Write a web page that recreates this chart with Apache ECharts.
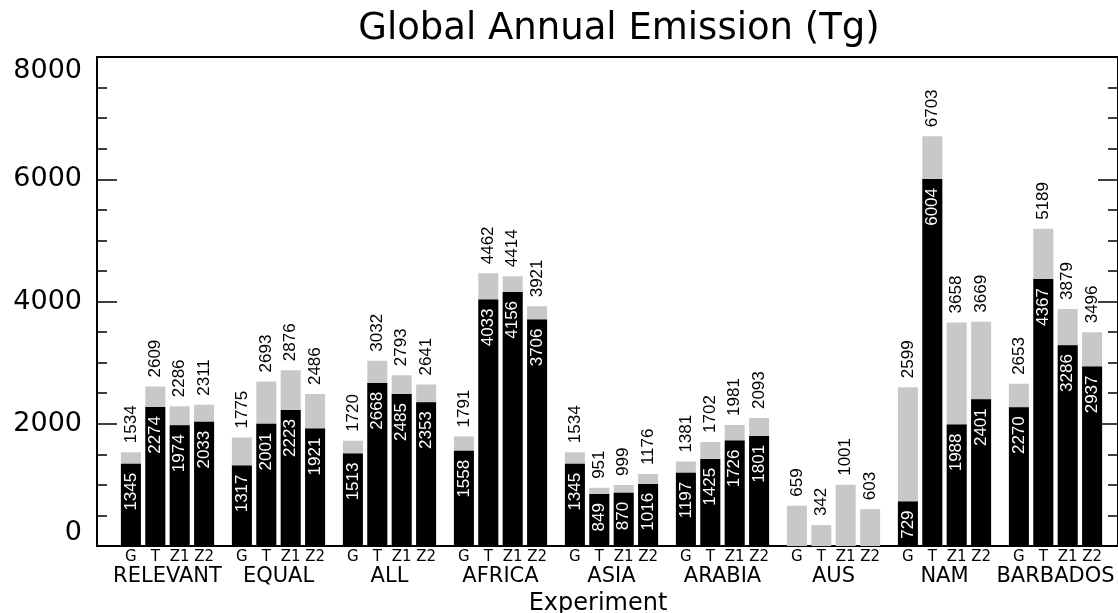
<!DOCTYPE html>
<html>
<head>
<meta charset="utf-8">
<script src="https://cdn.jsdelivr.net/npm/echarts@6/dist/echarts.min.js"></script>
<style>
  html, body { margin: 0; padding: 0; background: #ffffff; }
  #chart { width: 1118px; height: 613px; }
</style>
</head>
<body>
<div id="chart"></div>
<script>
// Experiments along the x axis and the four runs drawn for each one
const experiments = ['RELEVANT', 'EQUAL', 'ALL', 'AFRICA', 'ASIA', 'ARABIA', 'AUS', 'NAM', 'BARBADOS'];
const runs = ['G', 'T', 'Z1', 'Z2'];

// Total global annual emission (Tg), grey bars
const totalG  = [1534, 1775, 1720, 1791, 1534, 1381,  659, 2599, 2653];
const totalT  = [2609, 2693, 3032, 4462,  951, 1702,  342, 6703, 5189];
const totalZ1 = [2286, 2876, 2793, 4414,  999, 1981, 1001, 3658, 3879];
const totalZ2 = [2311, 2486, 2641, 3921, 1176, 2093,  603, 3669, 3496];

// Part of the emission shown in black (no value for AUS)
const partG  = [1345, 1317, 1513, 1558, 1345, 1197, null,  729, 2270];
const partT  = [2274, 2001, 2668, 4033,  849, 1425, null, 6004, 4367];
const partZ1 = [1974, 2223, 2485, 4156,  870, 1726, null, 1988, 3286];
const partZ2 = [2033, 1921, 2353, 3706, 1016, 1801, null, 2401, 2937];

const yMin = 0;
const yMax = 8000;
const yStep = 2000;

// thin sans for all text, falling back to the regular weight
const FONT = "'DejaVu Sans ExtraLight', 'DejaVu Sans'";
const VALUE_FONT = 'Liberation Sans';
const GREY = '#c8c8c8';

const totals = [totalG, totalT, totalZ1, totalZ2];
const parts = [partG, partT, partZ1, partZ2];

const BAR_W = 20;
const BAR_GAP = '22%';

const series = [];
runs.forEach((run, i) => {
  series.push({
    name: run + ' total',
    type: 'bar',
    xAxisIndex: 2,
    yAxisIndex: 2,
    data: totals[i],
    barWidth: BAR_W,
    barGap: BAR_GAP,
    z: 2,
    itemStyle: { color: GREY },
    label: {
      show: true,
      position: 'top',
      distance: 9,
      rotate: 90,
      align: 'left',
      verticalAlign: 'middle',
      color: '#000',
      fontFamily: VALUE_FONT,
      fontSize: 17
    }
  });
});
runs.forEach((run, i) => {
  series.push({
    name: run,
    type: 'bar',
    xAxisIndex: 3,
    yAxisIndex: 2,
    data: parts[i],
    barWidth: BAR_W,
    barGap: BAR_GAP,
    z: 3,
    itemStyle: { color: '#000' },
    label: {
      show: true,
      position: 'insideTop',
      distance: 9,
      rotate: 90,
      align: 'right',
      verticalAlign: 'middle',
      color: '#fff',
      fontFamily: VALUE_FONT,
      fontSize: 17
    }
  });
});

const frameLine = () => ({ show: true, onZero: false, lineStyle: { color: '#000', width: 2 } });
const frameTick = () => ({ show: true, inside: true, length: 20, lineStyle: { color: '#000', width: 1.5 } });
const frameMinor = () => ({ show: true, splitNumber: 4, length: 10, lineStyle: { color: '#000', width: 1.5 } });

const chart = echarts.init(document.getElementById('chart'), null, { renderer: 'canvas' });
chart.setOption({
  animation: false,
  backgroundColor: '#ffffff',
  textStyle: { fontFamily: FONT },
  title: [
    {
      text: 'Global Annual Emission (Tg)',
      left: 614,
      top: 6,
      textAlign: 'center',
      textStyle: { fontFamily: FONT, fontWeight: 'normal', fontSize: 37, color: '#000' }
    },
    {
      text: 'Experiment',
      left: 593,
      top: 587,
      textAlign: 'center',
      textStyle: { fontFamily: FONT, fontWeight: 'normal', fontSize: 24, color: '#000' }
    }
  ],
  grid: [
    // plot frame with the value axes
    { left: 97, right: -9, top: 57, bottom: 67, containLabel: false },
    // bars
    { left: 112, right: 7, top: 57, bottom: 67, containLabel: false }
  ],
  xAxis: [
    {
      gridIndex: 0, type: 'value', position: 'bottom', min: 0, max: 1,
      axisLine: frameLine(), axisTick: { show: false }, axisLabel: { show: false }, splitLine: { show: false }
    },
    {
      gridIndex: 0, type: 'value', position: 'top', min: 0, max: 1,
      axisLine: frameLine(), axisTick: { show: false }, axisLabel: { show: false }, splitLine: { show: false }
    },
    {
      gridIndex: 1, type: 'category', position: 'bottom', data: experiments,
      axisLine: { show: false }, axisTick: { show: false },
      axisLabel: {
        interval: 0,
        margin: 3,
        color: '#000',
        formatter: (value) => runs.map(r => '{s|' + r + '}').join('') + '\n{g|' + value + '}',
        rich: {
          s: { width: 24.4, align: 'center', fontFamily: FONT, fontSize: 15, lineHeight: 17, color: '#000' },
          g: { align: 'center', fontFamily: FONT, fontSize: 21, lineHeight: 22, color: '#000' }
        }
      }
    },
    {
      gridIndex: 1, type: 'category', data: experiments, show: false
    }
  ],
  yAxis: [
    {
      gridIndex: 0, type: 'value', position: 'left', min: yMin, max: yMax, interval: yStep,
      axisLine: frameLine(), axisTick: frameTick(), minorTick: frameMinor(),
      splitLine: { show: false }, minorSplitLine: { show: false },
      axisLabel: {
        show: true, margin: 15, color: '#000', fontFamily: FONT, fontSize: 27,
        formatter: (v) => String(v),
        verticalAlignMinLabel: 'bottom', verticalAlignMaxLabel: 'top'
      }
    },
    {
      gridIndex: 0, type: 'value', position: 'right', min: yMin, max: yMax, interval: yStep,
      axisLine: frameLine(), axisTick: frameTick(), minorTick: frameMinor(),
      splitLine: { show: false }, minorSplitLine: { show: false },
      axisLabel: { show: false }
    },
    {
      gridIndex: 1, type: 'value', min: yMin, max: yMax, interval: yStep, show: false,
      splitLine: { show: false }
    }
  ],
  series: series
});
</script>
</body>
</html>
